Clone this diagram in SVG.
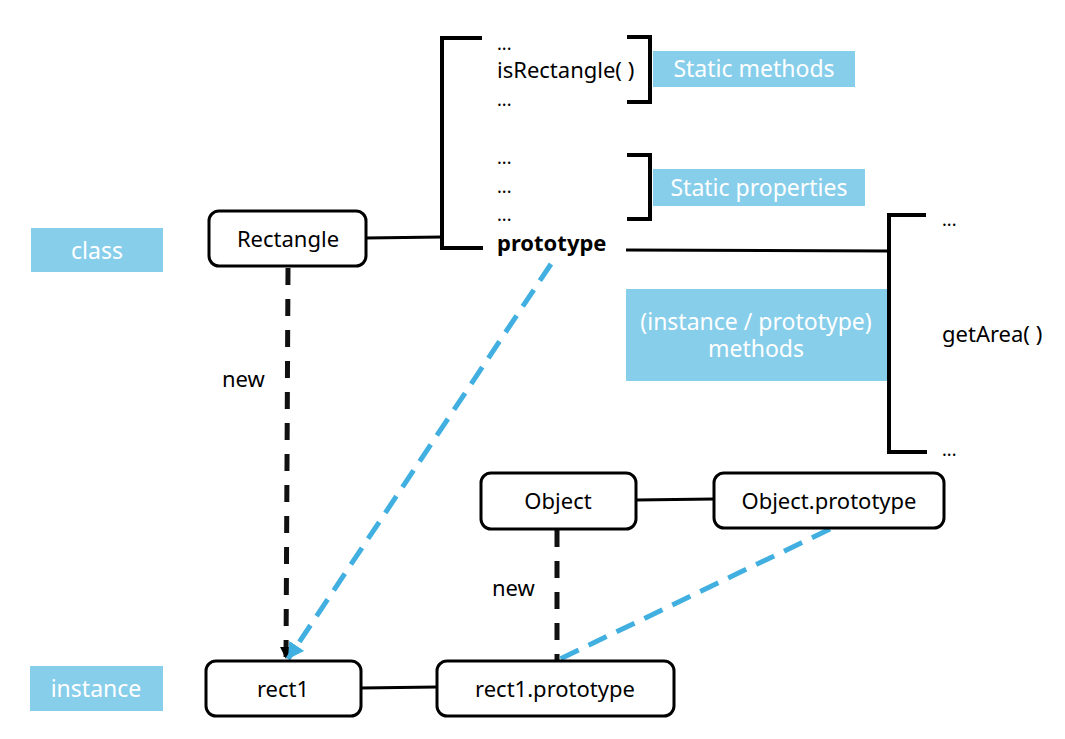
<svg xmlns="http://www.w3.org/2000/svg" width="1065" height="739" viewBox="0 0 1065 739">
<style>
.node{fill:#fff;stroke:#000;stroke-width:3}
.t{font-family:"Noto Sans","Open Sans","Liberation Sans",sans-serif;font-size:22px;fill:#000}
.d{font-family:"Noto Sans","Open Sans","Liberation Sans",sans-serif;font-size:18px;fill:#000}
.c{text-anchor:middle}
.lbl{fill:#87CEEB}
.lt{font-family:"Noto Sans","Open Sans","Liberation Sans",sans-serif;font-size:23px;fill:#fff;text-anchor:middle}
.ln{fill:none;stroke:#000;stroke-width:3}
.br{fill:none;stroke:#000;stroke-width:4}
.dk{fill:none;stroke:#111;stroke-width:5;stroke-dasharray:17 14}
.db{fill:none;stroke:#41B0E0;stroke-width:5;stroke-dasharray:20 11}
</style>
<defs>
<marker id="ak" markerWidth="14" markerHeight="14" refX="12" refY="6" orient="auto" markerUnits="userSpaceOnUse" viewBox="0 0 14 12">
<path d="M0,0 L12,6 L0,12 Z" fill="#000"/>
</marker>
<marker id="ab" markerWidth="18" markerHeight="18" refX="14" refY="8" orient="auto" markerUnits="userSpaceOnUse" viewBox="0 0 16 16">
<path d="M0,0 L14,8 L0,16 Z" fill="#41B0E0"/>
</marker>
</defs>

<g id="labels">
<rect class="lbl" x="31" y="228" width="132" height="44"/>
<text class="lt" x="97" y="259">class</text>
<rect class="lbl" x="30" y="666" width="133" height="45"/>
<text class="lt" x="96" y="697">instance</text>
<rect class="lbl" x="653" y="51" width="202" height="36"/>
<text class="lt" x="754" y="77">Static methods</text>
<rect class="lbl" x="653" y="169" width="212" height="37"/>
<text class="lt" x="759" y="196">Static properties</text>
<rect class="lbl" x="626" y="289" width="261" height="92"/>
<text class="lt" x="756" y="330">(instance / prototype)<tspan x="756" dy="27">methods</tspan></text>
</g>

<g id="connectors">
<line class="ln" x1="366" y1="238" x2="442" y2="237"/>
<line class="ln" x1="626" y1="250" x2="889" y2="251"/>
<line class="ln" x1="636" y1="500" x2="714" y2="499"/>
<line class="ln" x1="361" y1="688" x2="437" y2="687"/>
<polyline class="br" points="482,38 442,38 442,248 483,248"/>
<polyline class="br" points="627,37 650,37 650,102 627,102"/>
<polyline class="br" points="627,155 650,155 650,219 627,219"/>
<polyline class="br" points="926,215 889,215 889,452 927,452"/>
<line class="dk" x1="288" y1="268" x2="286" y2="659" marker-end="url(#ak)"/>
<line class="dk" x1="557" y1="530" x2="557" y2="660"/>
<line class="db" x1="551" y1="264" x2="288" y2="659" marker-end="url(#ab)"/>
<line class="db" x1="830" y1="529" x2="558" y2="660"/>
<text class="t" x="222" y="387">new</text>
<text class="t" x="492" y="596">new</text>
</g>

<g id="class-members">
<text class="d" x="497" y="50">...</text>
<text class="t" x="497" y="78">isRectangle( )</text>
<text class="d" x="497" y="106">...</text>
<text class="d" x="497" y="164">...</text>
<text class="d" x="497" y="193">...</text>
<text class="d" x="497" y="221">...</text>
<text class="t" x="497" y="251" font-weight="bold">prototype</text>
</g>

<g id="proto-members">
<text class="d" x="942" y="226">...</text>
<text class="t" x="942" y="342">getArea( )</text>
<text class="d" x="942" y="456">...</text>
</g>

<g id="node-rectangle">
<rect class="node" x="209" y="211" width="157" height="55" rx="10"/>
<text class="t c" x="288" y="247">Rectangle</text>
</g>
<g id="node-object">
<rect class="node" x="481" y="473" width="155" height="56" rx="10"/>
<text class="t c" x="558" y="509">Object</text>
</g>
<g id="node-object-prototype">
<rect class="node" x="714" y="473" width="230" height="55" rx="10"/>
<text class="t c" x="829" y="509">Object.prototype</text>
</g>
<g id="node-rect1">
<rect class="node" x="206" y="661" width="155" height="55" rx="10"/>
<text class="t c" x="283" y="697">rect1</text>
</g>
<g id="node-rect1-prototype">
<rect class="node" x="437" y="661" width="237" height="55" rx="10"/>
<text class="t c" x="555" y="697">rect1.prototype</text>
</g>
</svg>
